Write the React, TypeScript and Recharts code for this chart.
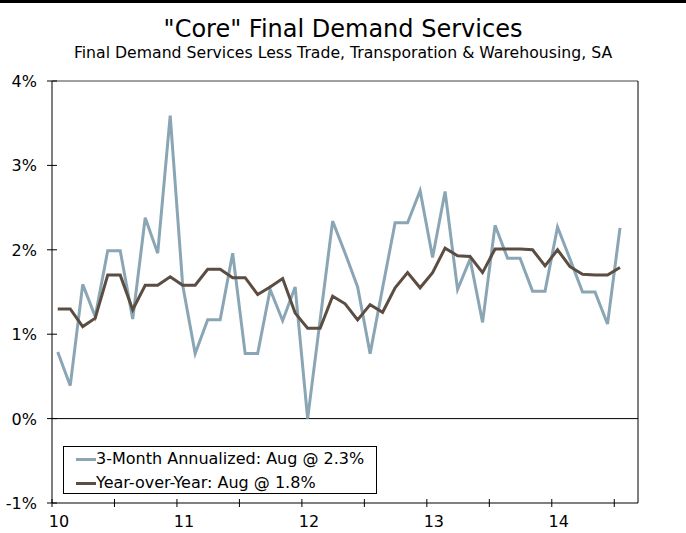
import { Line, LineChart, XAxis, YAxis, ReferenceLine } from 'recharts';

// 3-month annualized and year-over-year, monthly observations
const threeMonth = [
  0.79, 0.39, 1.59, 1.21, 1.99, 1.99, 1.18, 2.38, 1.96, 3.59,
  1.58, 0.77, 1.17, 1.17, 1.96, 0.77, 0.77, 1.53, 1.16, 1.56,
  0.0, 1.17, 2.34, 1.96, 1.56, 0.77, 1.55, 2.32, 2.32, 2.7,
  1.91, 2.69, 1.53, 1.89, 1.14, 2.29, 1.9, 1.9, 1.51, 1.51,
  2.27, 1.89, 1.5, 1.5, 1.12, 2.26
];
const yearOverYear = [
  1.3, 1.3, 1.09, 1.19, 1.7, 1.7, 1.29, 1.58, 1.58, 1.68,
  1.58, 1.58, 1.77, 1.77, 1.67, 1.67, 1.47, 1.56, 1.66, 1.25,
  1.07, 1.07, 1.45, 1.36, 1.17, 1.35, 1.26, 1.55, 1.73, 1.55,
  1.73, 2.02, 1.93, 1.92, 1.73, 2.01, 2.01, 2.01, 2.0, 1.81,
  2.0, 1.8, 1.71, 1.7, 1.7, 1.79
];
const yearLabels = ['10', '11', '12', '13', '14'];
const xTicks = [0, 5, 10, 15, 20, 25, 30, 35, 40, 45];
const yTicks = [-1, 0, 1, 2, 3, 4];

const FONT = '"DejaVu Sans", Verdana, sans-serif';
const GREY = '#8AA6B5';
const BROWN = '#5B4D42';

const chartData = threeMonth.map((v, i) => ({
  x: i + 0.46,
  threeMonth: v,
  yoy: yearOverYear[i]
}));

function XTick({ x, y, payload }: any) {
  const v = payload.value as number;
  const label = v % 10 === 0 ? yearLabels[v / 10] : '';
  return (
    <g>
      <line x1={x} x2={x} y1={y - 4} y2={y + 4} stroke="#000" />
      {label && (
        <text x={x + 7} y={y + 24} textAnchor="middle" fontSize={16} fontFamily={FONT} fill="#000">
          {label}
        </text>
      )}
    </g>
  );
}

function YTickLeft({ x, y, payload }: any) {
  return (
    <g>
      <line x1={x - 5} x2={x + 5} y1={y} y2={y} stroke="#000" />
      <text x={x - 15} y={y + 6} textAnchor="end" fontSize={16} fontFamily={FONT} fill="#000">
        {payload.value}%
      </text>
    </g>
  );
}

function YTickRight({ x, y, payload }: any) {
  return (
    <g>
      <line x1={x - 5} x2={x + 5} y1={y} y2={y} stroke="#000" />
      <text x={x + 15} y={y + 6} textAnchor="start" fontSize={16} fontFamily={FONT} fill="#000">
        {payload.value}%
      </text>
    </g>
  );
}

export default function App() {
  return (
    <div style={{ position: 'relative', width: 686, height: 533, background: '#fff', fontFamily: FONT }}>
      <style>{`body{margin:0}`}</style>
      <div style={{ position: 'absolute', left: 0, top: 0, width: 686, height: 3, background: '#000' }} />
      <div style={{ position: 'absolute', left: 0, top: 15, width: 686, textAlign: 'center', fontSize: 24 }}>
        "Core" Final Demand Services
      </div>
      <div style={{ position: 'absolute', left: 0, top: 43, width: 686, textAlign: 'center', fontSize: 15.7 }}>
        Final Demand Services Less Trade, Transporation &amp; Warehousing, SA
      </div>
      <LineChart
        width={686}
        height={533}
        data={chartData}
        margin={{ top: 81, right: 0, bottom: 0, left: 0 }}
      >
        <XAxis
          dataKey="x"
          type="number"
          domain={[0, 46.9]}
          ticks={xTicks}
          tick={<XTick />}
          tickLine={false}
          tickSize={0}
          tickMargin={0}
          height={30}
          axisLine={{ stroke: '#000' }}
          allowDataOverflow
        />
        <YAxis
          yAxisId="left"
          domain={[-1, 4]}
          ticks={yTicks}
          tick={<YTickLeft />}
          tickLine={false}
          tickSize={0}
          tickMargin={0}
          width={52}
          axisLine={{ stroke: '#000' }}
        />
        <YAxis
          yAxisId="right"
          orientation="right"
          domain={[-1, 4]}
          ticks={yTicks}
          tick={<YTickRight />}
          tickLine={false}
          tickSize={0}
          tickMargin={0}
          width={48}
          axisLine={{ stroke: '#000' }}
        />
        <ReferenceLine yAxisId="left" y={4} stroke="#808080" strokeWidth={1.5} />
        <ReferenceLine yAxisId="left" y={0} stroke="#000" strokeWidth={1} />
        <Line
          yAxisId="left"
          dataKey="threeMonth"
          stroke={GREY}
          strokeWidth={3}
          dot={false}
          type="linear"
          isAnimationActive={false}
        />
        <Line
          yAxisId="left"
          dataKey="yoy"
          stroke={BROWN}
          strokeWidth={3}
          dot={false}
          type="linear"
          isAnimationActive={false}
        />
      </LineChart>
      <div
        style={{
          position: 'absolute',
          left: 63,
          top: 446,
          width: 312,
          height: 46,
          border: '1px solid #000',
          background: '#fff',
          fontSize: 16,
          lineHeight: '24px'
        }}
      >
        <div style={{ display: 'flex', alignItems: 'center', marginLeft: 12 }}>
          <span style={{ display: 'inline-block', width: 20, height: 3, background: GREY }} />
          <span>3-Month Annualized: Aug @ 2.3%</span>
        </div>
        <div style={{ display: 'flex', alignItems: 'center', marginLeft: 12 }}>
          <span style={{ display: 'inline-block', width: 20, height: 3, background: BROWN }} />
          <span>Year-over-Year: Aug @ 1.8%</span>
        </div>
      </div>
    </div>
  );
}
